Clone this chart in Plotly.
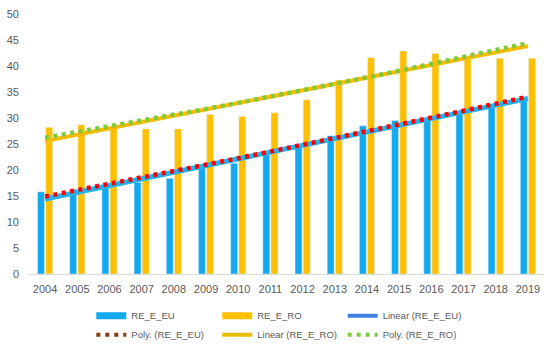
import numpy as np
import plotly.graph_objects as go

years = [2004, 2005, 2006, 2007, 2008, 2009, 2010, 2011, 2012, 2013, 2014, 2015, 2016, 2017, 2018, 2019]
re_e_eu = [15.8, 16.3, 16.8, 17.6, 18.4, 20.4, 21.3, 23.0, 24.5, 26.6, 28.5, 29.5, 30.0, 30.7, 32.1, 33.8]
re_e_ro = [28.2, 28.7, 28.2, 27.9, 27.9, 30.7, 30.3, 31.0, 33.5, 37.3, 41.6, 42.9, 42.4, 41.8, 41.5, 41.5]
# polynomial trendline values
poly_eu = [14.90, 16.10, 17.31, 18.53, 19.77, 21.01, 22.27, 23.54, 24.82, 26.11, 27.41, 28.73, 30.05, 31.39, 32.74, 34.10]
poly_ro = [26.20, 27.27, 28.36, 29.46, 30.59, 31.74, 32.91, 34.10, 35.32, 36.55, 37.80, 39.09, 40.38, 41.70, 43.04, 44.40]

x_labels = [str(y) for y in years]
t = np.arange(len(years))
lin_eu = np.polyval(np.polyfit(t, re_e_eu, 1), t)
lin_ro = np.polyval(np.polyfit(t, re_e_ro, 1), t)

C_EU = "#13A9EE"
C_RO = "#FFC000"
C_LIN_EU = "#22B4EE"
C_LIN_RO = "#FFBA00"
C_POLY_EU = "#FF0000"
C_POLY_RO = "#7CCB3C"

fig = go.Figure()
fig.add_trace(go.Bar(x=x_labels, y=re_e_eu, marker_color=C_EU, name="RE_E_EU", showlegend=False))
fig.add_trace(go.Bar(x=x_labels, y=re_e_ro, marker_color=C_RO, name="RE_E_RO", showlegend=False))
fig.add_trace(go.Scatter(x=x_labels, y=lin_eu, mode="lines", line=dict(color=C_LIN_EU, width=5), showlegend=False, hoverinfo="skip"))
fig.add_trace(go.Scatter(x=x_labels, y=poly_eu, mode="lines", line=dict(color=C_POLY_EU, width=4.5, dash="4px,4.5px"), showlegend=False, hoverinfo="skip"))
fig.add_trace(go.Scatter(x=x_labels, y=lin_ro, mode="lines", line=dict(color=C_LIN_RO, width=4), showlegend=False, hoverinfo="skip"))
fig.add_trace(go.Scatter(x=x_labels, y=poly_ro, mode="lines", line=dict(color=C_POLY_RO, width=4.5, dash="4px,4.5px"), showlegend=False, hoverinfo="skip"))

# legend entries (Excel-style line swatches), arranged in three columns
legend_items = [
    ("RE_E_EU", dict(color=C_EU, width=7), "legend"),
    ("Poly. (RE_E_EU)", dict(color="#8B3A12", width=4, dash="4px,5px"), "legend"),
    ("RE_E_RO", dict(color=C_RO, width=7), "legend2"),
    ("Linear (RE_E_RO)", dict(color="#E6C000", width=4), "legend2"),
    ("Linear (RE_E_EU)", dict(color="#3F7FE0", width=4), "legend3"),
    ("Poly. (RE_E_RO)", dict(color=C_POLY_RO, width=4, dash="4px,5px"), "legend3"),
]
for name, ln, lg in legend_items:
    fig.add_trace(go.Scatter(x=[None], y=[None], mode="lines", name=name, line=ln,
                             showlegend=True, legend=lg, legendgroup=name))

leg_common = dict(
    orientation="v", xref="container", yref="container", xanchor="left", yanchor="top",
    y=0.137, font=dict(size=9.5, color="#595959"), bgcolor="rgba(0,0,0,0)",
    tracegroupgap=7, traceorder="normal", borderwidth=0,
)

fig.update_layout(
    width=550, height=349,
    margin=dict(l=29, r=6, t=14, b=75, autoexpand=False),
    paper_bgcolor="white", plot_bgcolor="white",
    barmode="group", bargap=0.49, bargroupgap=0.15,
    font=dict(family="Liberation Sans, Arial, sans-serif", size=11, color="#595959"),
    showlegend=True,
    legend=dict(x=0.166, **leg_common),
    legend2=dict(x=0.395, **leg_common),
    legend3=dict(x=0.623, **leg_common),
)
fig.update_xaxes(
    type="category", range=[-0.5, 15.5], showgrid=False, showline=True, linecolor="#D9D9D9", linewidth=1,
    ticks="", tickfont=dict(size=11, color="#595959"), zeroline=False, ticklabelstandoff=5,
)
fig.update_yaxes(
    range=[0, 50], dtick=5, showgrid=False, showline=False, zeroline=False,
    ticks="", tickfont=dict(size=11, color="#595959"), ticklabelstandoff=9,
)

fig.write_html("out.html", config={"displayModeBar": False},
               post_script="document.body.style.margin='0';")
